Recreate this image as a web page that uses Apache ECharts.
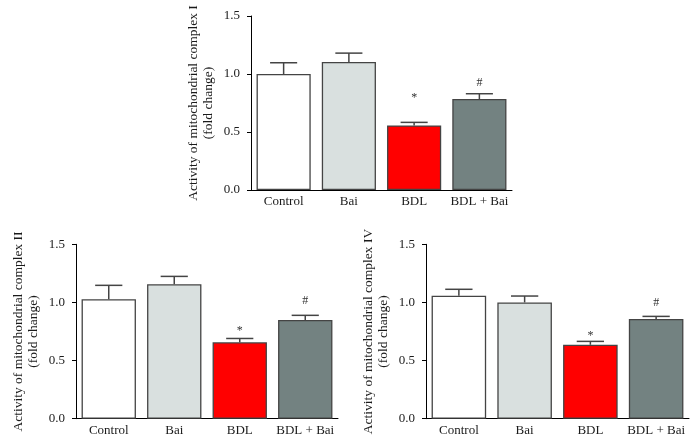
<!DOCTYPE html>
<html>
<head>
<meta charset="utf-8">
<script src="https://cdn.jsdelivr.net/npm/echarts@6/dist/echarts.min.js"></script>
<style>html,body{margin:0;padding:0;background:#fff}#c{width:698px;height:441px}</style>
</head>
<body>
<div id="c"></div>
<script>
const categories = ['Control', 'Bai', 'BDL', 'BDL + Bai'];
const yTicks = [0, 0.5, 1.0, 1.5];
const panelTitles = ['Activity of mitochondrial complex I', 'Activity of mitochondrial complex II', 'Activity of mitochondrial complex IV'];
const complexI = [1.0, 1.103, 0.557, 0.784];
const complexIErr = [1.097, 1.18, 0.583, 0.83];
const complexII = [1.027, 1.156, 0.657, 0.849];
const complexIIErr = [1.147, 1.224, 0.69, 0.889];
const complexIV = [1.058, 1.0, 0.636, 0.857];
const complexIVErr = [1.113, 1.055, 0.665, 0.88];
const marksText = ['', '', '*', '#'];
const marksI = [null, null, 0.793, 0.922];
const marksII = [null, null, 0.757, 1.012];
const marksIV = [null, null, 0.711, 0.997];

const barColors = ['#ffffff', '#d9e0df', '#ff0000', '#738281'];
const FONT = 'Liberation Serif';

const panels = [
  {vals: complexI, err: complexIErr, marks: marksI, grid: {left: 251, top: 16, width: 261, height: 174}},
  {vals: complexII, err: complexIIErr, marks: marksII, grid: {left: 76, top: 244.3, width: 262, height: 174.4}},
  {vals: complexIV, err: complexIVErr, marks: marksIV, grid: {left: 426, top: 244.3, width: 263, height: 174.4}}
];

const chart = echarts.init(document.getElementById('c'));
const grids = [], xAxes = [], yAxes = [], series = [];
panels.forEach((p, i) => {
  grids.push(p.grid);
  xAxes.push({
    type: 'category', gridIndex: i, data: categories,
    axisLine: {lineStyle: {color: '#000', width: 1}},
    axisTick: {show: false},
    axisLabel: {color: '#1a1a1a', fontFamily: FONT, fontSize: 13, margin: 5, interval: 0}
  });
  yAxes.push({
    type: 'value', gridIndex: i, min: yTicks[0], max: yTicks[yTicks.length - 1], interval: 0.5,
    name: panelTitles[i] + '\n(fold change)',
    nameLocation: 'middle', nameGap: 35, nameRotate: 90,
    nameTextStyle: {color: '#1a1a1a', fontFamily: FONT, fontSize: 13.5, lineHeight: 15, align: 'center'},
    axisLine: {show: true, lineStyle: {color: '#000', width: 1}},
    axisTick: {show: true, length: 4, lineStyle: {color: '#000'}},
    splitLine: {show: false},
    axisLabel: {color: '#1a1a1a', fontFamily: FONT, fontSize: 13, margin: 11,
      formatter: v => v.toFixed(1)}
  });
  series.push({
    type: 'bar', xAxisIndex: i, yAxisIndex: i,
    barCategoryGap: '17%',
    data: p.vals.map((v, k) => ({value: v, itemStyle: {color: barColors[k], borderColor: '#444', borderWidth: 1.3}})),
    z: 2
  });
  series.push({
    type: 'custom', xAxisIndex: i, yAxisIndex: i, z: 3,
    data: p.vals.map((v, k) => [k, v, p.err[k]]),
    renderItem: (params, api) => {
      const base = api.coord([api.value(0), api.value(1)]);
      const top = api.coord([api.value(0), api.value(2)]);
      const bw = api.size([1, 0])[0] * 0.83;
      const half = bw / 4;
      const st = {stroke: '#444', lineWidth: 1.5};
      return {type: 'group', children: [
        {type: 'line', shape: {x1: base[0], y1: base[1], x2: top[0], y2: top[1]}, style: st},
        {type: 'line', shape: {x1: top[0] - half, y1: top[1], x2: top[0] + half, y2: top[1]}, style: st}
      ]};
    }
  });
  series.push({
    type: 'custom', xAxisIndex: i, yAxisIndex: i, z: 4,
    data: p.marks.map((m, k) => [k, m, k]).filter(d => d[1] !== null),
    renderItem: (params, api) => {
      const pt = api.coord([api.value(0), api.value(1)]);
      const k = api.value(2);
      return {type: 'text', x: pt[0], y: pt[1], style: {text: marksText[k], fill: '#333', font: '12px "' + FONT + '"', align: 'center', verticalAlign: 'middle'}};
    }
  });
});

chart.setOption({
  animation: false,
  grid: grids, xAxis: xAxes, yAxis: yAxes, series: series
});
</script>
</body>
</html>
